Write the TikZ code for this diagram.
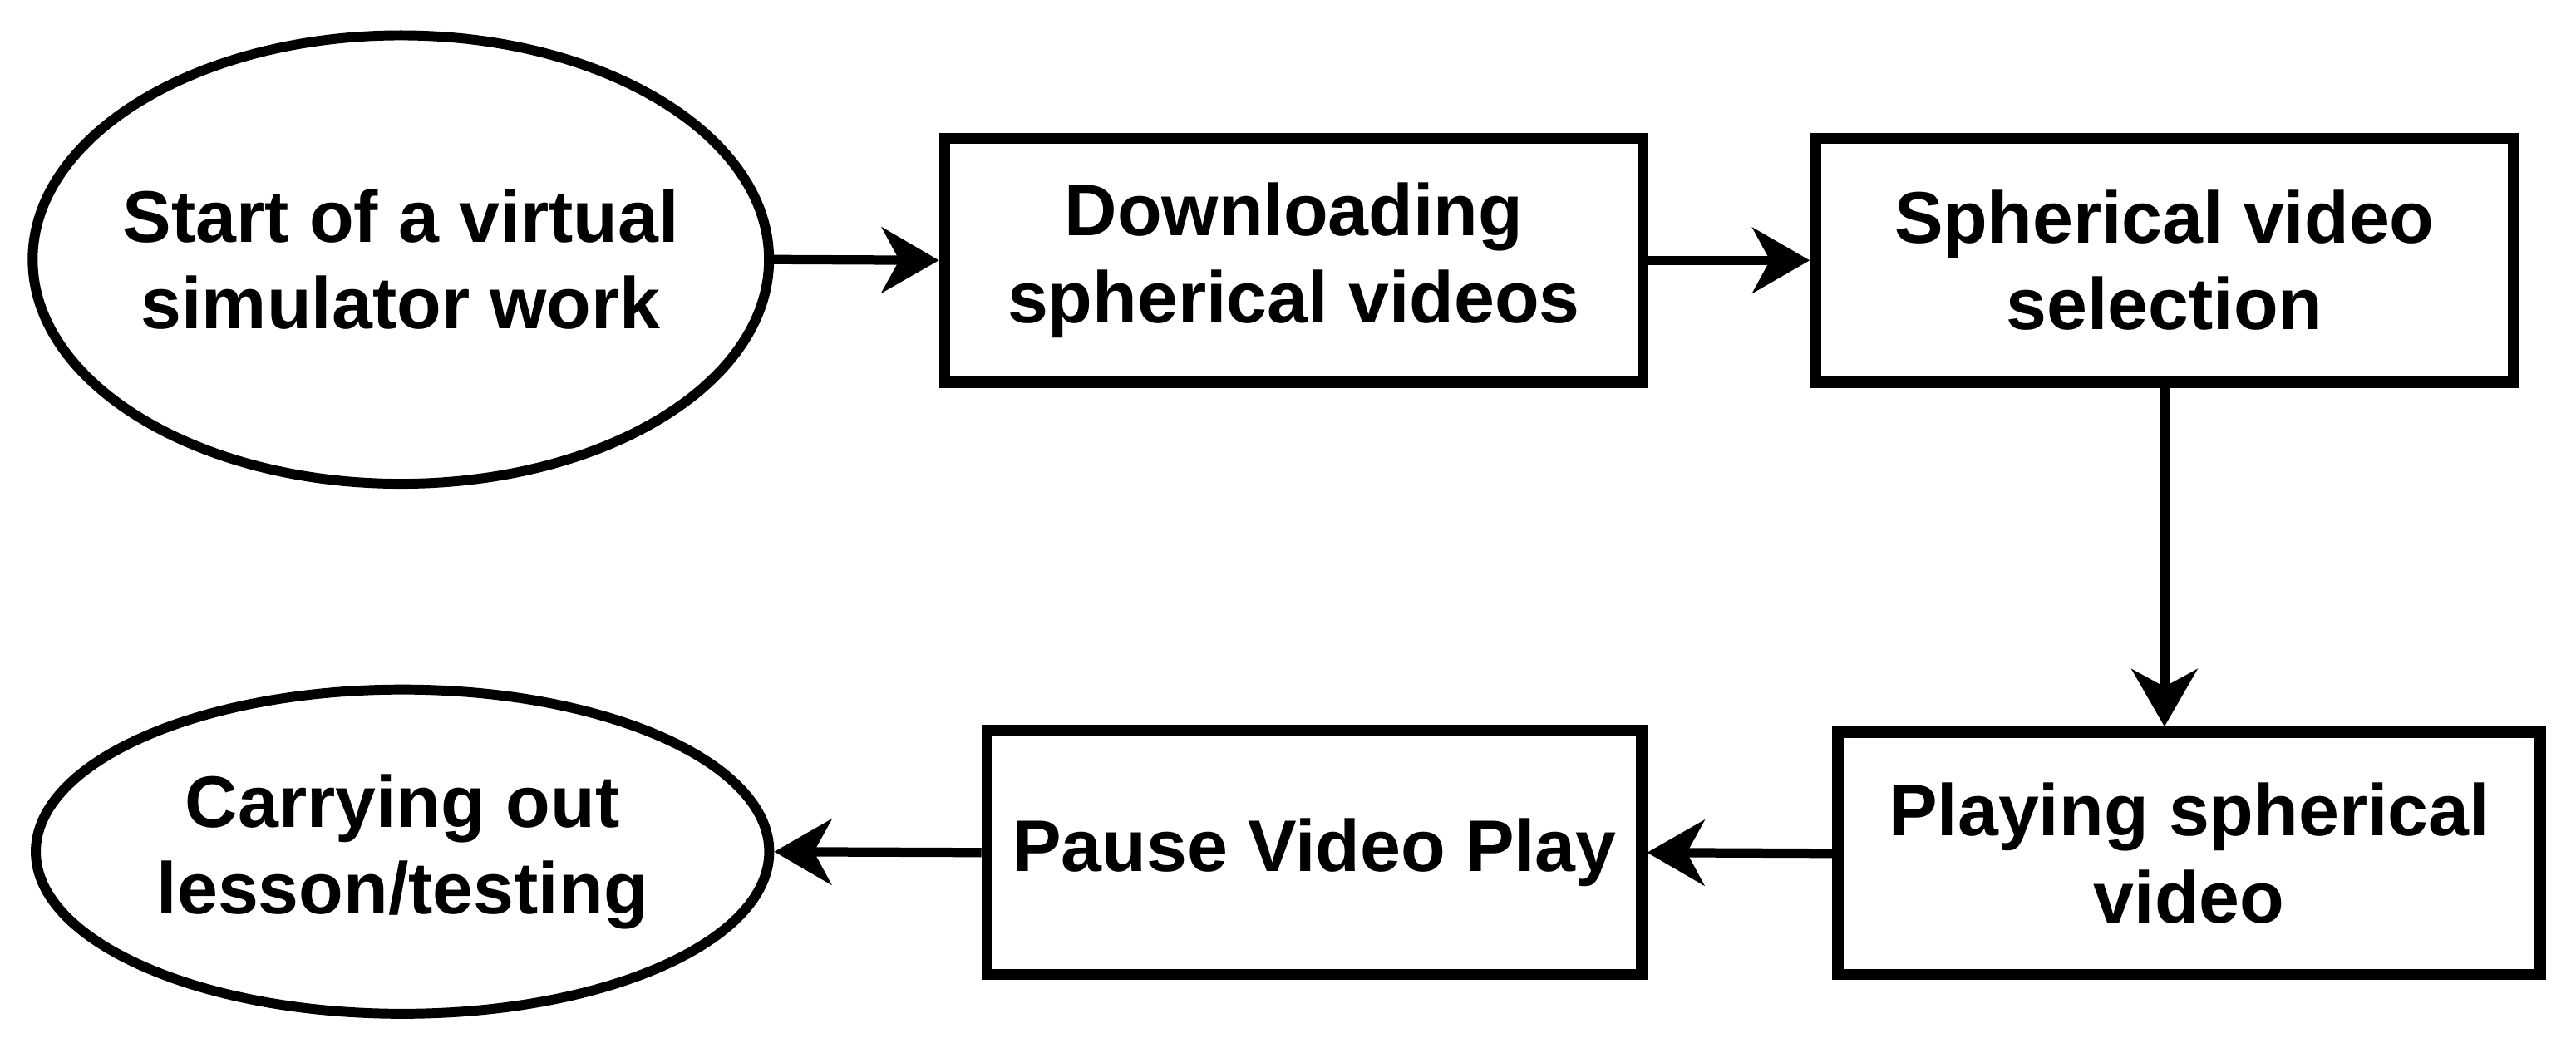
\documentclass[tikz,border=0pt]{standalone}
\usepackage{fontspec}
\setmainfont{Liberation Sans}
\usetikzlibrary{shapes.geometric,arrows.meta}
\tikzset{
  txt/.style={align=center, inner sep=0pt,
    font=\fontsize{25}{29.7}\selectfont\bfseries},
  procbox/.style={txt, draw=black, fill=white, rectangle, line width=3.8pt, minimum height=83.5pt},
  terminal/.style={draw=black, fill=white, ellipse, inner sep=0pt, line width=3.4pt},
  flow/.style={line width=3.2pt, -{Stealth[length=19.6pt, width=22.4pt, inset=6pt]}}
}
\begin{document}
\begin{tikzpicture}[x=0.01976cm, y=-0.01976cm]
\useasboundingbox (0,0) rectangle (1568,641);
\node[terminal, minimum width=252pt, minimum height=153.5pt] (e1) at (244,158) {};
\node[txt] (e1t) at (e1.center) {Start of a virtual\\simulator work};
\node[procbox, minimum width=239pt] (a) at (787.5,158.5) {Downloading\\spherical videos};
\node[procbox, minimum width=239pt] (b) at (1317.5,158.5) {Spherical video\\selection};
\node[procbox, minimum width=240.4pt, minimum height=83pt] (c) at (1332.5,519.5) {Playing spherical\\video};
\node[procbox, minimum width=224pt] (d) at (800,519) {Pause Video Play};
\node[terminal, minimum width=251pt, minimum height=111pt] (e2) at (245,518.5) {};
\node[txt] (e2t) at (e2.center) {Carrying out\\lesson/testing};
\draw[flow] (e1.east) -- (a.west);
\draw[flow] (a.east) -- (b.west);
\draw[flow] (b.south) -- (b.south |- c.north);
\draw[flow] (c.west) -- (d.east);
\draw[flow] (d.west) -- (e2.east);
\end{tikzpicture}
\end{document}
